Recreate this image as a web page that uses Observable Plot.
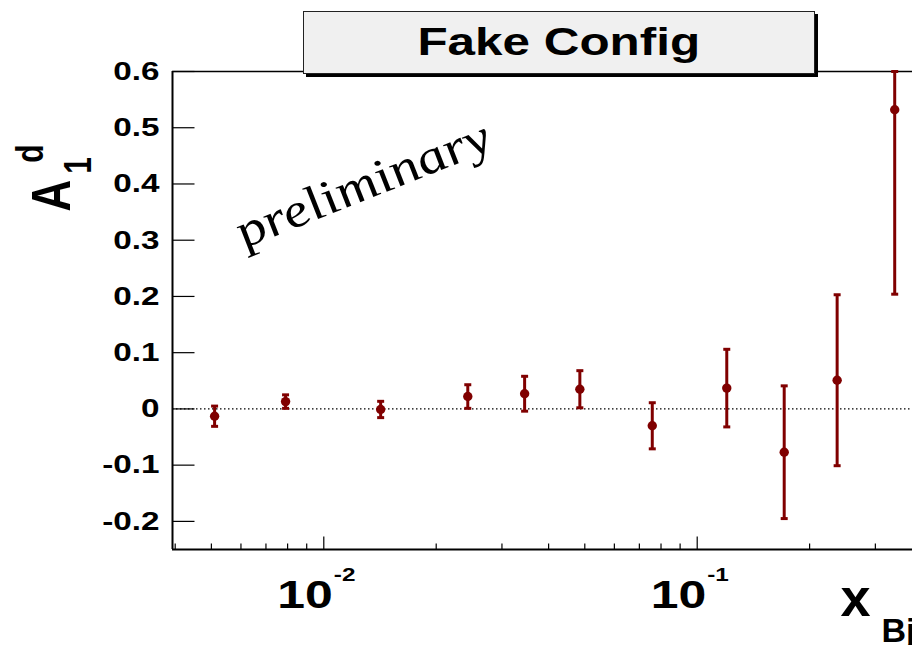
<!DOCTYPE html>
<html>
<head>
<meta charset="utf-8">
<script src="https://cdn.jsdelivr.net/npm/d3@7"></script>
<script src="https://cdn.jsdelivr.net/npm/@observablehq/plot@0.6"></script>
<style>
  body { margin: 0; background: #fff; }
  #chart { position: relative; width: 912px; height: 645px; overflow: hidden; }
  #chart svg { display: block; }
  #title {
    position: absolute; left: 303px; top: 11px; width: 512px; height: 63px;
    box-sizing: border-box; border: 1px solid #222; background: #f0f0f0;
    box-shadow: 3px 3px 0 #000; text-align: center;
    font: bold 38px "Liberation Sans", Arial, Helvetica, sans-serif; line-height: 61px;
  }
  #title span { display: inline-block; transform: scaleX(1.3); }
</style>
</head>
<body>
<div id="chart"><div id="title"><span>Fake Config</span></div></div>
<script>
// Deuteron asymmetry A1^d versus Bjorken x
const xBj = [0.0051, 0.0079, 0.0142, 0.0243, 0.0345, 0.0485, 0.0758, 0.120, 0.171, 0.237, 0.338];
const a1d = [-0.013, 0.013, -0.001, 0.022, 0.027, 0.035, -0.030, 0.037, -0.077, 0.051, 0.532];
const a1dErr = [0.018, 0.012, 0.0145, 0.021, 0.031, 0.033, 0.041, 0.069, 0.118, 0.152, 0.328];

// Axis ticks and labels
const yTicks = [-0.2, -0.1, 0, 0.1, 0.2, 0.3, 0.4, 0.5, 0.6];
const yTickLabels = ["-0.2", "-0.1", "0", "0.1", "0.2", "0.3", "0.4", "0.5", "0.6"];
const xMajorTicks = [0.01, 0.1];
const xMajorBase = ["10", "10"];
const xMajorExp = ["-2", "-1"];
const xMinorTicks = [0.004, 0.005, 0.006, 0.007, 0.008, 0.009,
                     0.02, 0.03, 0.04, 0.05, 0.06, 0.07, 0.08, 0.09, 0.2, 0.3];

const xDomain = [0.003934, 0.3772];
const yDomain = [-0.25, 0.6];

const rows = xBj.map((x, i) => ({x, y: a1d[i], lo: a1d[i] - a1dErr[i], hi: a1d[i] + a1dErr[i]}));

const red = "#800000";
const sans = "Liberation Sans, Arial, Helvetica, sans-serif";

// small custom symbols: error-bar caps and inward tick marks
const capSymbol = {draw(ctx) { ctx.rect(-3.5, -1.5, 7, 3); }};
const yTickSymbol = {draw(ctx) { ctx.moveTo(0, 0); ctx.lineTo(22, 0); }};
const xMajorSymbol = {draw(ctx) { ctx.moveTo(0, 0); ctx.lineTo(0, -13); }};
const xMinorSymbol = {draw(ctx) { ctx.moveTo(0, 0); ctx.lineTo(0, -6); }};

const chart = Plot.plot({
  width: 912,
  height: 645,
  marginLeft: 172,
  marginRight: 0,
  marginTop: 71,
  marginBottom: 96,
  style: {background: "#fff", fontFamily: sans, overflow: "visible"},
  x: {type: "log", domain: xDomain, axis: null},
  y: {domain: yDomain, axis: null, clamp: true},
  marks: [
    // zero reference
    Plot.ruleY([0], {stroke: "black", strokeWidth: 1.2, strokeDasharray: "1.5,2.5"}),
    // frame lines
    Plot.ruleX([xDomain[0]], {stroke: "black", strokeWidth: 2}),
    Plot.ruleY([yDomain[0]], {stroke: "black", strokeWidth: 2}),
    Plot.ruleY([yDomain[1]], {stroke: "black", strokeWidth: 1.5}),
    // y ticks + labels
    Plot.dot(yTicks, {y: d => d, frameAnchor: "left", symbol: yTickSymbol, fill: "none", stroke: "black", strokeWidth: 1.2}),
    Plot.text(yTicks, {y: d => d, text: (d, i) => yTickLabels[i], frameAnchor: "left", dx: -13,
      textAnchor: "end", lineAnchor: "middle", fontSize: 26, fontWeight: "bold", fill: "black"}),
    // x ticks + labels
    Plot.dot(xMajorTicks, {x: d => d, frameAnchor: "bottom", symbol: xMajorSymbol, fill: "none", stroke: "black", strokeWidth: 1.2}),
    Plot.dot(xMinorTicks, {x: d => d, frameAnchor: "bottom", symbol: xMinorSymbol, fill: "none", stroke: "black", strokeWidth: 1.2}),
    Plot.text(xMajorTicks, {x: d => d, text: (d, i) => xMajorBase[i], frameAnchor: "bottom", dx: 9, dy: 58,
      textAnchor: "end", lineAnchor: "bottom", fontSize: 39, fontWeight: "bold", fill: "black"}),
    Plot.text(xMajorTicks, {x: d => d, text: (d, i) => xMajorExp[i], frameAnchor: "bottom", dx: 10, dy: 31,
      textAnchor: "start", lineAnchor: "bottom", fontSize: 19, fontWeight: "bold", fill: "black"}),
    // axis titles
    Plot.text(["x"], {frameAnchor: "bottom-right", dx: -42, dy: 66, textAnchor: "end", lineAnchor: "bottom",
      fontSize: 54, fontWeight: "bold", fill: "black"}),
    Plot.text(["Bj"], {frameAnchor: "bottom-right", dx: -31, dy: 92, textAnchor: "start", lineAnchor: "bottom",
      fontSize: 34, fontWeight: "bold", fill: "black"}),
    Plot.text(["A"], {frameAnchor: "top-left", dx: -103, dy: 124, rotate: -90, textAnchor: "middle", lineAnchor: "bottom",
      fontSize: 44, fontWeight: "bold", fill: "black"}),
    Plot.text(["1"], {frameAnchor: "top-left", dx: -82, dy: 94, rotate: -90, textAnchor: "middle", lineAnchor: "bottom",
      fontSize: 30, fontWeight: "bold", fill: "black"}),
    Plot.text(["d"], {frameAnchor: "top-left", dx: -130, dy: 82, rotate: -90, textAnchor: "middle", lineAnchor: "bottom",
      fontSize: 30, fontWeight: "bold", fill: "black"}),
    // watermark
    Plot.text(["preliminary"], {frameAnchor: "top-left", dx: 190, dy: 113, rotate: -27, textAnchor: "middle",
      lineAnchor: "middle", fontSize: 47, fontStyle: "italic", fontFamily: "Liberation Serif, Times New Roman, serif", fill: "black"}),
    // data: error bars, caps, points
    Plot.ruleX(rows, {x: "x", y1: "lo", y2: "hi", stroke: red, strokeWidth: 3}),
    Plot.dot(rows, {x: "x", y: "lo", symbol: capSymbol, fill: red, stroke: "none"}),
    Plot.dot(rows, {x: "x", y: "hi", symbol: capSymbol, fill: red, stroke: "none"}),
    Plot.dot(rows, {x: "x", y: "y", r: 4.7, fill: red, stroke: "none"})
  ]
});

const holder = document.getElementById("chart");
holder.insertBefore(chart, holder.firstChild);

// Wide glyphs: stretch text horizontally (screen x) about each label's anchor point.
function widenText(svg, factor, keep) {
  for (const t of svg.querySelectorAll("text")) {
    if (keep.has(t.textContent)) continue;
    const parent = t.parentNode;
    const ctm = t.getScreenCTM();
    const pctm = parent.getScreenCTM();
    const x0 = parseFloat(t.getAttribute("x")) || 0;
    const ax = ctm.a * x0 + ctm.e;
    const axp = (ax - pctm.e) / pctm.a;
    const g = document.createElementNS("http://www.w3.org/2000/svg", "g");
    g.setAttribute("transform", `translate(${axp},0) scale(${factor},1) translate(${-axp},0)`);
    parent.insertBefore(g, t);
    g.appendChild(t);
  }
}
widenText(chart, 1.28, new Set(["x", "Bj"]));
</script>
</body>
</html>
